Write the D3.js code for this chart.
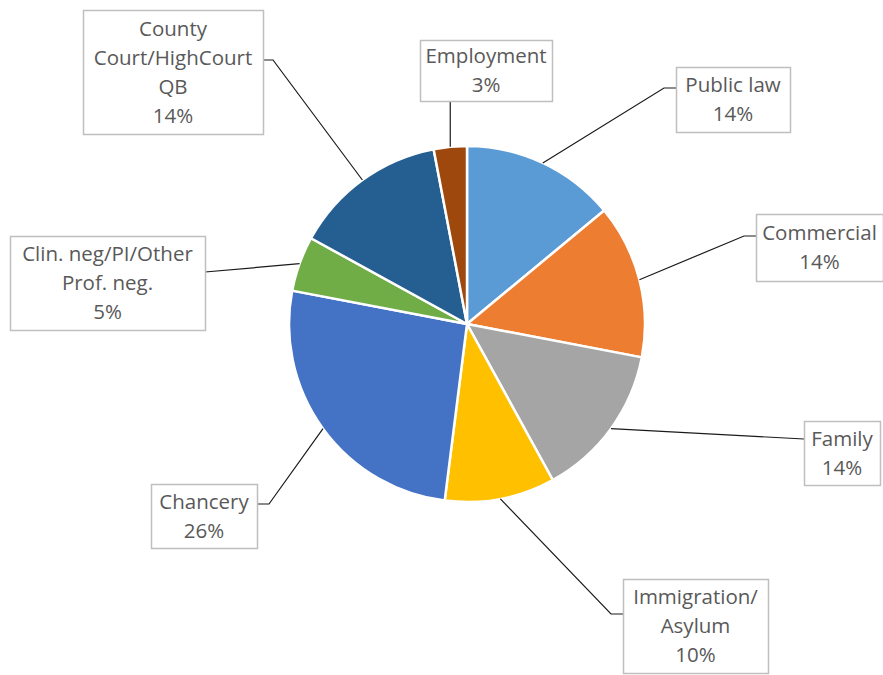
<!DOCTYPE html>
<html>
<head>
<meta charset="utf-8">
<script src="https://cdn.jsdelivr.net/npm/d3@7"></script>
<style>
  body { margin: 0; background: #fff; }
  svg { display: block; }
</style>
</head>
<body>
<svg id="chart" width="883" height="675"></svg>
<script>
// Share of work by practice area (percent)
const categories = [
  "Public law", "Commercial", "Family", "Immigration/Asylum",
  "Chancery", "Clin. neg/PI/Other Prof. neg.", "County Court/HighCourt QB", "Employment"
];
const shares = [14, 14, 14, 10, 26, 5, 14, 3];
const labelLines = [
  ["Public law"], ["Commercial"], ["Family"], ["Immigration/", "Asylum"],
  ["Chancery"], ["Clin. neg/PI/Other", "Prof. neg."], ["County", "Court/HighCourt", "QB"], ["Employment"]
];
const colors = ["#5B9BD5", "#ED7D31", "#A5A5A5", "#FFC000", "#4472C4", "#70AD47", "#255E91", "#9E480E"];

// Callout boxes: where each label sits and how its leader attaches
const callouts = [
  { x: 676, y: 67,  w: 114, h: 65,  side: "left",   ay: 88,  elbow: 12 },
  { x: 756, y: 214, w: 127, h: 67,  side: "left",   ay: 236, elbow: 12 },
  { x: 804, y: 421, w: 76,  h: 64,  side: "left",   ay: 439, elbow: 0 },
  { x: 623, y: 579, w: 145, h: 94,  side: "left",   ay: 614, elbow: 12 },
  { x: 151, y: 484, w: 106, h: 64,  side: "right",  ay: 504, elbow: 12 },
  { x: 10,  y: 236, w: 195, h: 94,  side: "right",  ay: 272, elbow: 0 },
  { x: 83,  y: 10,  w: 180, h: 124, side: "right",  ay: 60,  elbow: 10 },
  { x: 420, y: 40,  w: 132, h: 61,  side: "bottom" }
];

const svg = d3.select("#chart");
const cx = 467, cy = 324, radius = 178;

const data = categories.map((c, i) => ({ name: c, value: shares[i], i }));
const pie = d3.pie().value(d => d.value).sort(null);
const arcs = pie(data);
const arc = d3.arc().innerRadius(0).outerRadius(radius);

const g = svg.append("g").attr("transform", `translate(${cx},${cy})`);
g.selectAll("path.slice")
  .data(arcs)
  .join("path")
  .attr("class", "slice")
  .attr("d", arc)
  .attr("fill", d => colors[d.data.i])
  .attr("stroke", "#fff")
  .attr("stroke-width", 2.5)
  .attr("stroke-linejoin", "round");

// Leader lines from slice edge to callout
const leaders = arcs.map(a => {
  const c = callouts[a.data.i];
  const mid = (a.startAngle + a.endAngle) / 2;
  const sx = cx + radius * Math.sin(mid);
  const sy = cy - radius * Math.cos(mid);
  let pts;
  if (c.side === "bottom") {
    pts = [[sx, sy], [sx, c.y + c.h]];
  } else {
    const ex = c.side === "left" ? c.x : c.x + c.w;
    const bx = c.side === "left" ? ex - c.elbow : ex + c.elbow;
    pts = c.elbow ? [[sx, sy], [bx, c.ay], [ex, c.ay]] : [[sx, sy], [ex, c.ay]];
  }
  return pts;
});

svg.append("g")
  .selectAll("path")
  .data(leaders)
  .join("path")
  .attr("d", d3.line())
  .attr("fill", "none")
  .attr("stroke", "#1a1a1a")
  .attr("stroke-width", 1.2);

// Callout boxes and text
const lab = svg.append("g")
  .selectAll("g")
  .data(arcs)
  .join("g");

lab.append("rect")
  .attr("x", d => callouts[d.data.i].x + 0.5)
  .attr("y", d => callouts[d.data.i].y + 0.5)
  .attr("width", d => callouts[d.data.i].w)
  .attr("height", d => callouts[d.data.i].h)
  .attr("fill", "#fff")
  .attr("stroke", "#BFBFBF")
  .attr("stroke-width", 1.5);

const lineStep = 29;
lab.each(function (d) {
  const c = callouts[d.data.i];
  const lines = labelLines[d.data.i].concat([d.data.value + "%"]);
  const first = c.y + c.h / 2 - (lines.length - 1) * lineStep / 2 - 1;
  d3.select(this).selectAll("text")
    .data(lines)
    .join("text")
    .attr("x", c.x + c.w / 2)
    .attr("y", (t, k) => first + k * lineStep)
    .attr("text-anchor", "middle")
    .attr("dominant-baseline", "central")
    .attr("font-family", "'Open Sans', 'Noto Sans', sans-serif")
    .attr("font-size", 20.5)
    .attr("fill", "#595959")
    .text(t => t);
});
</script>
</body>
</html>
